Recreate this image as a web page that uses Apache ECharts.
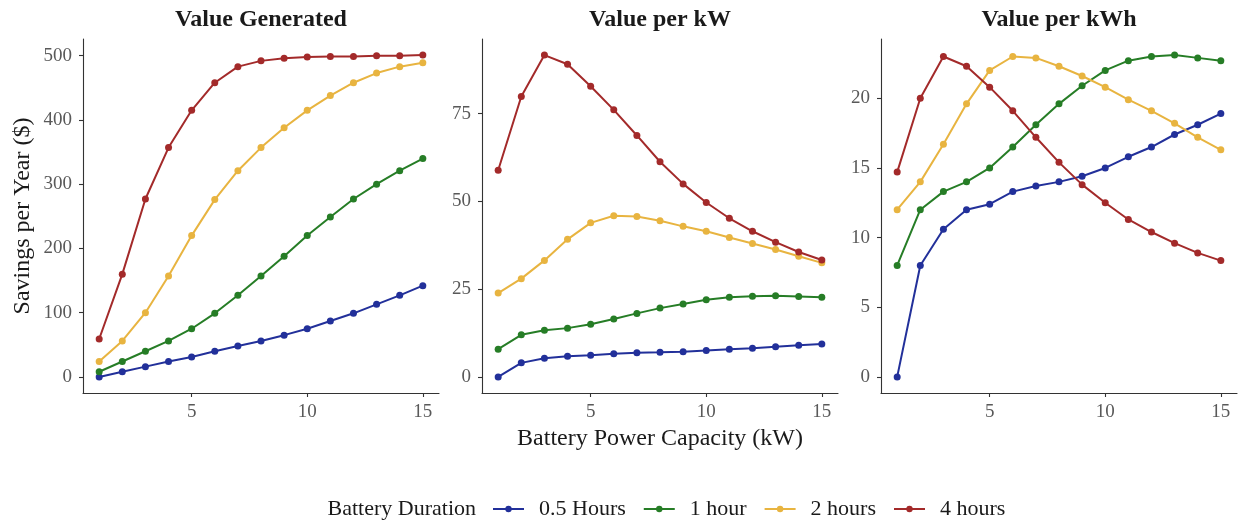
<!DOCTYPE html>
<html><head><meta charset="utf-8">
<script src="https://cdn.jsdelivr.net/npm/echarts@6/dist/echarts.min.js"></script>
<style>html,body{margin:0;padding:0;background:#fff}#c{width:1238px;height:522px}</style>
</head><body><div id="c"></div>
<script>
// ---- data ----
const capacity = [1,2,3,4,5,6,7,8,9,10,11,12,13,14,15];
const seriesNames = ['0.5 Hours','1 hour','2 hours','4 hours'];
const panelTitles = ['Value Generated','Value per kW','Value per kWh'];
const xTicks = [5,10,15];
const yTicksGen = [0,100,200,300,400,500];
const yTicksKw = [0,25,50,75];
const yTicksKwh = [0,5,10,15,20];

// Value Generated ($/yr)
const gen05 = [0,8,16,24,31,40,48,56,65,75,87,99,113,127,142];
const gen1  = [8,24,40,56,75,99,127,157,188,220,249,277,300,321,340];
const gen2  = [24,56,100,157,220,276,321,357,388,415,438,458,473,483,489];
const gen4  = [59,160,277,357,415,458,483,492,496,498,499,499,500,500,501];

// Value per kW
const kw05 = [0,4,5.3,5.9,6.2,6.6,6.9,7,7.2,7.5,7.9,8.2,8.6,9,9.4];
const kw1  = [7.9,12,13.3,13.9,15,16.5,18.1,19.6,20.8,22,22.7,23,23.1,22.9,22.7];
const kw2  = [23.9,28,33.2,39.2,43.9,45.9,45.7,44.5,42.9,41.5,39.7,38,36.3,34.4,32.5];
const kw4  = [58.9,79.9,91.7,89.1,82.8,76.1,68.8,61.3,55,49.7,45.2,41.5,38.4,35.6,33.3];

// Value per kWh
const kwh05 = [0,8,10.6,12,12.4,13.3,13.7,14,14.4,15,15.8,16.5,17.4,18.1,18.9];
const kwh1  = [8,12,13.3,14,15,16.5,18.1,19.6,20.9,22,22.7,23,23.1,22.9,22.7];
const kwh2  = [12,14,16.7,19.6,22,23,22.9,22.3,21.6,20.8,19.9,19.1,18.2,17.2,16.3];
const kwh4  = [14.7,20,23,22.3,20.8,19.1,17.2,15.4,13.8,12.5,11.3,10.4,9.6,8.9,8.35];

// ---- styling / layout ----
const colors = ['#22309A','#267D26','#E8B440','#A32A2A'];
const panels = [
  {title: panelTitles[0], ticks: yTicksGen, data: [gen05,gen1,gen2,gen4]},
  {title: panelTitles[1], ticks: yTicksKw,  data: [kw05,kw1,kw2,kw4]},
  {title: panelTitles[2], ticks: yTicksKwh, data: [kwh05,kwh1,kwh2,kwh4]}
];
const gridLeft = [83, 482, 881];
const gridW = 356, gridTop = 39, gridH = 354;
const FONT = '"Liberation Serif", "Times New Roman", serif';
const axisCol = '#333333';

function expand(arrs){
  let lo = Infinity, hi = -Infinity;
  arrs.forEach(a => a.forEach(v => { lo = Math.min(lo, v); hi = Math.max(hi, v); }));
  const pad = (hi - lo) * 0.05;
  return [lo - pad, hi + pad];
}
const xr = (()=>{ const lo=Math.min(...capacity), hi=Math.max(...capacity), p=(hi-lo)*0.05; return [lo-p, hi+p]; })();

const grids = [], xAxes = [], yAxes = [], series = [], graphics = [];
panels.forEach((p, pi) => {
  grids.push({left: gridLeft[pi], top: gridTop, width: gridW, height: gridH, containLabel: false, outerBoundsMode: 'none'});
  xAxes.push({
    gridIndex: pi, type: 'value', min: xr[0], max: xr[1],
    axisLine: {show: true, onZero: false, lineStyle: {color: axisCol, width: 1.1}},
    axisTick: {show: true, length: 4, customValues: xTicks, lineStyle: {color: axisCol, width: 1.1}},
    axisLabel: {customValues: xTicks, fontFamily: FONT, fontSize: 19, color: '#595959', margin: 10},
    splitLine: {show: false}
  });
  const yr = expand(p.data);
  yAxes.push({
    gridIndex: pi, type: 'value', min: yr[0], max: yr[1],
    axisLine: {show: true, onZero: false, lineStyle: {color: axisCol, width: 1.1}},
    axisTick: {show: true, length: 4, customValues: p.ticks, lineStyle: {color: axisCol, width: 1.1}},
    axisLabel: {customValues: p.ticks, fontFamily: FONT, fontSize: 19, color: '#595959', margin: 11},
    splitLine: {show: false}
  });
  p.data.forEach((vals, si) => {
    series.push({
      type: 'line', name: seriesNames[si], xAxisIndex: pi, yAxisIndex: pi,
      data: capacity.map((x, i) => [x, vals[i]]),
      symbol: 'circle', symbolSize: 7, showSymbol: true,
      itemStyle: {color: colors[si]},
      lineStyle: {color: colors[si], width: 2},
      z: 2 + si
    });
  });
  graphics.push({type: 'text', x: gridLeft[pi] + gridW/2, y: 20,
    style: {text: p.title, font: 'bold 24px ' + FONT, fill: '#1a1a1a',
      align: 'center', verticalAlign: 'middle', textAlign: 'center', textVerticalAlign: 'middle'}});
});

graphics.push({type: 'text', x: 23, y: 216, rotation: Math.PI/2,
  style: {text: 'Savings per Year ($)', font: '24px ' + FONT, fill: '#1a1a1a',
    align: 'center', verticalAlign: 'middle', textAlign: 'center', textVerticalAlign: 'middle'}});
graphics.push({type: 'text', x: gridLeft[1] + gridW/2, y: 439,
  style: {text: 'Battery Power Capacity (kW)', font: '24px ' + FONT, fill: '#1a1a1a',
    align: 'center', verticalAlign: 'middle', textAlign: 'center', textVerticalAlign: 'middle'}});
graphics.push({type: 'text', x: 476, y: 509,
  style: {text: 'Battery Duration', font: '22px ' + FONT, fill: '#1a1a1a',
    align: 'right', verticalAlign: 'middle', textAlign: 'right', textVerticalAlign: 'middle'}});

const chart = echarts.init(document.getElementById('c'), null, {renderer: 'canvas'});
chart.setOption({
  animation: false,
  backgroundColor: '#ffffff',
  grid: grids, xAxis: xAxes, yAxis: yAxes, series: series,
  legend: {
    data: seriesNames, left: 492, top: 498, orient: 'horizontal', padding: 0,
    itemWidth: 31, itemHeight: 8, itemGap: 17,
    itemStyle: {borderWidth: 0},
    lineStyle: {width: 2},
    textStyle: {fontFamily: FONT, fontSize: 22, color: '#1a1a1a', padding: [0, 0, 0, 10]}
  },
  graphic: graphics
});
</script></body></html>
